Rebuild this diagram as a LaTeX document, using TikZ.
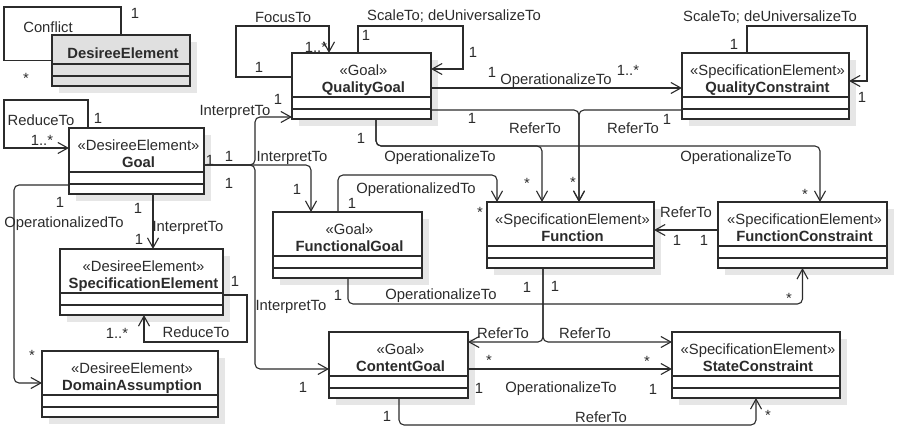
\documentclass[tikz,border=0pt]{standalone}
\usepackage{fontspec}
\setmainfont{Liberation Sans}
\usetikzlibrary{arrows.meta}
\definecolor{Ink}{HTML}{2B2B2B}
\definecolor{BoxShadow}{HTML}{E6E6E6}
\definecolor{HeadGray}{HTML}{E0E0E0}

\begin{document}
\begin{tikzpicture}[x=1pt,y=-1pt,
    every node/.style={font=\fontsize{14.8}{17}\selectfont,text=Ink},
    classbox/.style={draw=Ink,fill=white,line width=1.1pt,inner sep=0pt,outer sep=0pt,minimum height=66},
    classtext/.style={align=center,anchor=north,inner sep=0pt},
    assoc/.style={draw=Ink,line width=1.1pt,rounded corners=5pt,-{Straight Barb[length=10pt,width=11pt]}},
    selfloop/.style={assoc,sharp corners},
    lbl/.style={inner sep=0pt,text height=10.6pt,text depth=0pt}]
    \useasboundingbox (0,0) rectangle (899,430);

    \fill[BoxShadow] (59,42) rectangle ++(138,51);
    \node[classbox,fill=HeadGray,minimum width=138,minimum height=51,anchor=north west] (desel) at (52,35) {};
    \draw[Ink,line width=1.1pt] (52,64) -- ++(138,0) (52,76) -- ++(138,0);
    \node[classtext,font=\fontsize{14.8}{17}\selectfont\bfseries] (desel-txt) at ([yshift=-12.5,xshift=2]desel.north) {DesireeElement};

    \foreach \nm/\x/\y/\w/\st/\ti in {goal/69/128/135/DesireeElement/Goal,
        qgoal/292/53/139/Goal/QualityGoal,
        qcons/682/53/167/SpecificationElement/QualityConstraint,
        specel/60/249/163/DesireeElement/SpecificationElement,
        fgoal/273/212/149/Goal/FunctionalGoal,
        func/487/202/167/SpecificationElement/Function,
        fcons/718/202/169/SpecificationElement/FunctionConstraint,
        domas/42/351/176/DesireeElement/DomainAssumption,
        cgoal/329/332/139/Goal/ContentGoal,
        scons/672/332/168/SpecificationElement/StateConstraint} {
      \fill[BoxShadow] (\x+7,\y+7) rectangle ++(\w,66);
      \node[classbox,minimum width=\w,anchor=north west] (\nm) at (\x,\y) {};
      \draw[Ink,line width=1.1pt] (\x,\y+44) -- ++(\w,0) (\x,\y+56) -- ++(\w,0);
      \node[classtext] (\nm-txt) at ([yshift=-12,xshift=2]\nm.north) {«\st»\\\textbf{\ti}};
    }

    \draw[Ink,line width=1.1pt] (desel.north) |- (4,7) |- (desel.west);
    \draw[selfloop] ([xshift=19]goal.north west) |- (4,100) |- ([yshift=-20]goal.north west);
    \draw[selfloop] ([yshift=-24]qgoal.north west) -| (236,26) -| ([xshift=37]qgoal.north west);
    \draw[selfloop] ([xshift=66]qgoal.north west) |- (463,26) |- ([yshift=-16]qgoal.north east);
    \draw[selfloop] ([xshift=65]qcons.north west) |- (867,26) |- ([yshift=-28]qcons.north east);
    \draw[selfloop] ([yshift=-46]specel.north east) -| (247,342) -| ([xshift=84]specel.south west);

    \draw[assoc] ([yshift=-35]qgoal.north east) -- ([yshift=-35]qcons.north west);
    \draw[assoc] ([yshift=-57]qgoal.north east) -| ([xshift=92]func.north west);
    \draw[assoc] ([yshift=-57]qcons.north west) -| ([xshift=92]func.north west);
    \draw[assoc] ([xshift=84]qgoal.south west) -- ++(0,27) -| ([xshift=55]func.north west);
    \draw[assoc] ([xshift=84]qgoal.south west) -- ++(0,27) -| ([xshift=102]fcons.north west);
    \draw[assoc] ([xshift=65]fgoal.north west) -- ++(0,-37) -| ([xshift=10]func.north west);
    \draw[assoc] ([yshift=-37]goal.north east) -- ++(51,0) |- ([yshift=2]qgoal.south west);
    \draw[assoc] ([yshift=-37]goal.north east) -| ([xshift=38]fgoal.north west);
    \draw[assoc] ([yshift=-37]goal.north east) -- ++(51,0) |- ([yshift=-37]cgoal.north west);
    \draw[assoc] ([xshift=84]goal.south west) -- ([xshift=93]specel.north west);
    \draw[assoc] ([yshift=-57]goal.north west) -- ++(-55,0) |- ([yshift=-32]domas.north west);
    \draw[assoc] ([yshift=-28]fcons.north west) -- ([yshift=-28]func.north east);
    \draw[assoc] ([xshift=75]fgoal.south west) -- ++(0,26) -| (fcons.south);
    \draw[assoc] ([xshift=56]func.south west) |- ([yshift=-10]cgoal.north east);
    \draw[assoc] ([xshift=56]func.south west) |- ([yshift=-10]scons.north west);
    \draw[assoc] ([yshift=-37]cgoal.north east) -- ([yshift=-37]scons.north west);
    \draw[assoc] ([xshift=70]cgoal.south west) -- ++(0,27) -| (scons.south);

    \foreach \x/\y/\t [count=\i] in {48/27/Conflict, 135/13/1, 26/78/*, 41/120/ReduceTo, 42/140/{1..*}, 98/118/1,
        283/17/FocusTo, 316/47/{1..*}, 259/67/1, 454/15/{ScaleTo; deUniversalizeTo}, 366/35/1, 473/52/1,
        770/16/{ScaleTo; deUniversalizeTo}, 734/44/1, 862/97/1, 492/72/1, 556/79/OperationalizeTo, 628/70/{1..*},
        472/118/1, 535/128/ReferTo, 633/128/ReferTo, 667/119/1, 573/182/*,
        361/138/1, 440/156/OperationalizeTo, 527/183/*, 736/156/OperationalizeTo, 805/194/*,
        235/110/InterpretTo, 278/99/1, 292/156/InterpretTo, 297/189/1, 291/305/InterpretTo, 303/387/1,
        210/160/1, 229/156/1, 229/183/1, 138/208/1, 188/226/InterpretTo, 139/239/1,
        235/281/1, 117/333/{1..*}, 196/332/ReduceTo, 60/202/1, 64/222/OperationalizedTo, 32/355/*,
        416/188/OperationalizedTo, 352/203/1, 480/212/*, 686/212/ReferTo, 677/240/1, 704/240/1,
        338/295/1, 441/294/OperationalizeTo, 789/298/*, 527/287/1, 555/286/1, 503/333/ReferTo, 585/333/ReferTo,
        489/360/*, 647/361/*, 479/388/1, 561/387/OperationalizeTo, 653/389/1, 387/416/1, 601/417/ReferTo, 768/415/*} {
      \node[lbl] (lab\i) at (\x,\y) {\t};
    }
  \end{tikzpicture}
\end{document}
